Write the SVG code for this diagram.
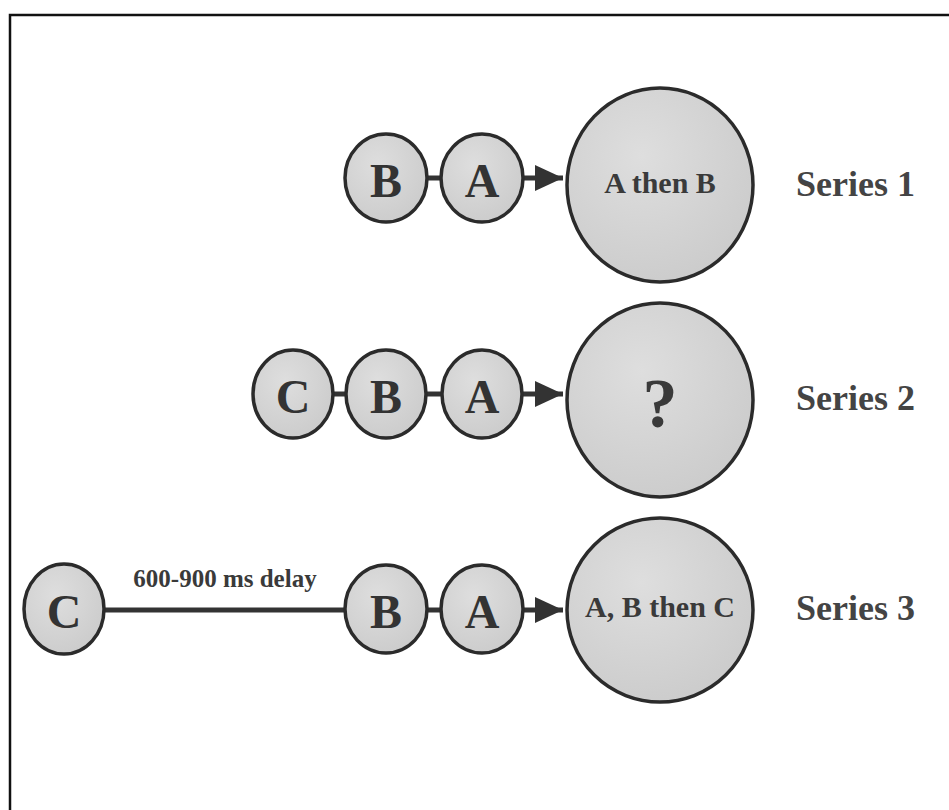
<svg xmlns="http://www.w3.org/2000/svg" width="949" height="810" viewBox="0 0 949 810">
<style>
.node{fill:url(#g);stroke:#2b2b2b;stroke-width:3.5}
.big{fill:url(#g);stroke:#2b2b2b;stroke-width:3.5}
.let{font-family:"Liberation Serif",serif;font-weight:bold;font-size:48px;fill:#333;text-anchor:middle}
.res{font-family:"Liberation Serif",serif;font-weight:bold;font-size:30px;fill:#3a3a3a;text-anchor:middle}
.ser{font-family:"Liberation Serif",serif;font-weight:bold;font-size:36px;fill:#444}
.conn{stroke:#333;stroke-width:5;fill:none}
</style>
<defs>
<radialGradient id="g" cx="0.4" cy="0.35" r="0.75">
<stop offset="0" stop-color="#dedede"/>
<stop offset="1" stop-color="#cacaca"/>
</radialGradient>
<marker id="ah" markerUnits="userSpaceOnUse" markerWidth="30" markerHeight="28" refX="28" refY="13" orient="auto">
<path d="M0,0 L28,13 L0,26 Z" fill="#333"/>
</marker>
</defs>
<rect width="949" height="810" fill="#fff"/>
<path d="M10,812 L10,15 L951,15" fill="none" stroke="#111" stroke-width="2.5"/>

<g id="connectors">
<line class="conn" x1="427" y1="178" x2="443" y2="178"/>
<line class="conn" x1="523" y1="178" x2="563" y2="178" marker-end="url(#ah)"/>
<line class="conn" x1="333" y1="394" x2="346" y2="394"/>
<line class="conn" x1="426" y1="394" x2="442" y2="394"/>
<line class="conn" x1="522" y1="394" x2="563" y2="394" marker-end="url(#ah)"/>
<line class="conn" x1="103" y1="610" x2="346" y2="610"/>
<line class="conn" x1="427" y1="610" x2="443" y2="610"/>
<line class="conn" x1="523" y1="610" x2="563" y2="610" marker-end="url(#ah)"/>
<text x="225" y="587" font-family="Liberation Serif,serif" font-weight="bold" font-size="25" fill="#3a3a3a" text-anchor="middle">600-900 ms delay</text>
</g>

<g id="s1-B"><ellipse class="node" cx="386" cy="178" rx="41" ry="44"/><text class="let" x="386" y="197">B</text></g>
<g id="s1-A"><ellipse class="node" cx="482" cy="178" rx="41" ry="44"/><text class="let" x="482" y="197">A</text></g>
<g id="s1-result"><ellipse class="big" cx="660" cy="185" rx="93" ry="97"/><text class="res" x="660" y="193">A then B</text></g>
<g id="s1-label"><text class="ser" x="796" y="196">Series 1</text></g>

<g id="s2-C"><ellipse class="node" cx="293" cy="394" rx="40" ry="44"/><text class="let" x="293" y="413">C</text></g>
<g id="s2-B"><ellipse class="node" cx="386" cy="394" rx="40" ry="44"/><text class="let" x="386" y="413">B</text></g>
<g id="s2-A"><ellipse class="node" cx="482" cy="394" rx="40" ry="44"/><text class="let" x="482" y="413">A</text></g>
<g id="s2-result"><ellipse class="big" cx="660" cy="400" rx="93" ry="97"/><text class="res" x="660" y="427" style="font-size:70px">?</text></g>
<g id="s2-label"><text class="ser" x="796" y="410">Series 2</text></g>

<g id="s3-C"><ellipse class="node" cx="64" cy="609" rx="40" ry="45"/><text class="let" x="64" y="628">C</text></g>
<g id="s3-B"><ellipse class="node" cx="386" cy="609" rx="41" ry="44"/><text class="let" x="386" y="628">B</text></g>
<g id="s3-A"><ellipse class="node" cx="482" cy="609" rx="41" ry="44"/><text class="let" x="482" y="628">A</text></g>
<g id="s3-result"><ellipse class="big" cx="660" cy="610" rx="93" ry="92"/><text class="res" x="660" y="617">A, B then C</text></g>
<g id="s3-label"><text class="ser" x="796" y="620">Series 3</text></g>
</svg>
